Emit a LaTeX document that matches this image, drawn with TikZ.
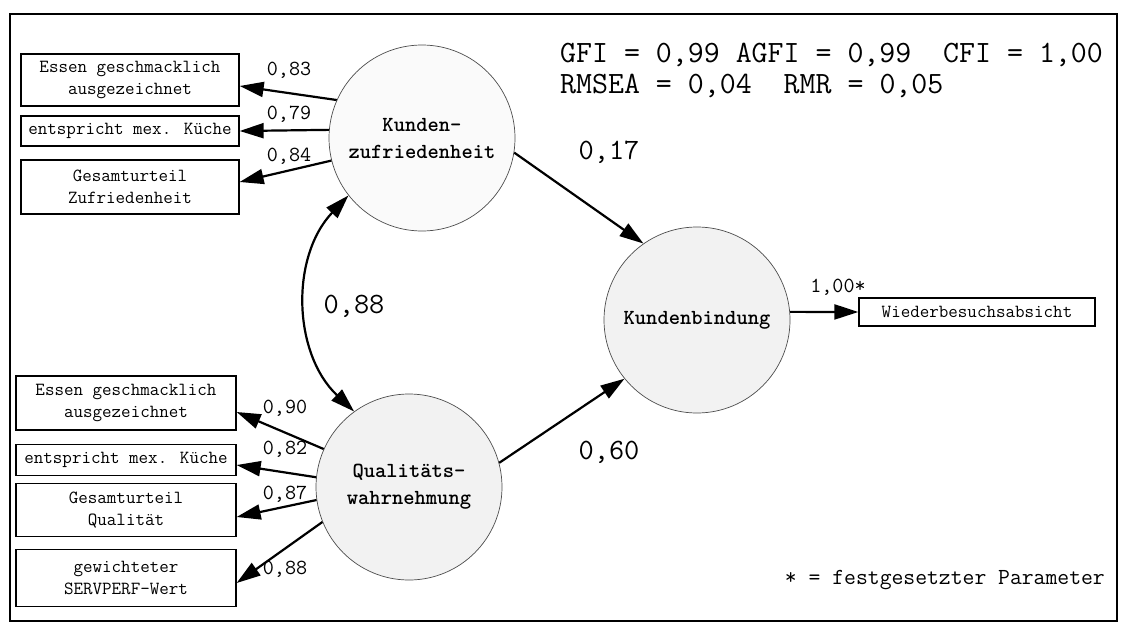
\documentclass[tikz,border=0pt]{standalone}
\usepackage{fontspec}
\usetikzlibrary{arrows.meta,calc}
\begin{document}
\begin{tikzpicture}[x=1pt,y=-1pt,
 box/.style={draw,line width=1.3pt,minimum width=218pt,align=center,font=\ttfamily\fontsize{18.5}{22}\selectfont,inner sep=0pt},
 lat/.style={circle,draw=black!70,line width=0.7pt,fill=black!5,minimum size=186pt,inner sep=0pt,font=\ttfamily\bfseries\fontsize{21.5}{27}\selectfont,align=center},
 arr/.style={line width=2.2pt,-{Triangle[length=24pt,width=15pt]}},
 darr/.style={line width=2.2pt,{Triangle[length=24pt,width=15pt]}-{Triangle[length=24pt,width=15pt]}},
 lbl/.style={font=\ttfamily\fontsize{21.5}{22}\selectfont,inner sep=0pt},
 big/.style={font=\ttfamily\fontsize{29.5}{32}\selectfont,inner sep=0pt}]
\useasboundingbox (0,0) rectangle (1127,629);
\draw[line width=1.5pt] (10,14) rectangle (1117,621);

% latent variables
\node[lat,fill=black!2] (kz) at (422,138) {Kunden-\\zufriedenheit};
\node[lat] (qw) at (409,487) {Qualitäts-\\wahrnehmung};
\node[lat] (kb) at (697,320) {Kundenbindung};

% indicators
\node[box,minimum height=52pt] (b1) at (130,80) {Essen geschmacklich\\ausgezeichnet};
\node[box,minimum height=30pt] (b2) at (130,131) {entspricht mex. Küche};
\node[box,minimum height=54pt] (b3) at (130,187) {Gesamturteil\\Zufriedenheit};
\node[box,minimum height=54pt,minimum width=220pt] (b4) at (126,403) {Essen geschmacklich\\ausgezeichnet};
\node[box,minimum height=31pt,minimum width=220pt] (b5) at (126,460) {entspricht mex. Küche};
\node[box,minimum height=53pt,minimum width=220pt] (b6) at (126,510) {Gesamturteil\\Qualität};
\node[box,minimum height=57pt,minimum width=220pt] (b7) at (126,578) {gewichteter\\SERVPERF-Wert};
\node[box,minimum height=28pt,minimum width=236pt] (w) at (977,312) {Wiederbesuchsabsicht};

% loadings
\draw[arr] (kz.156) -- ([yshift=-6pt]b1.east);
\draw[arr] (kz.175) -- (b2.east);
\draw[arr] (kz.194) -- ([yshift=5pt]b3.east);
\draw[arr] (qw.156) -- ([yshift=-9pt]b4.east);
\draw[arr] (qw.174) -- ([yshift=-5pt]b5.east);
\draw[arr] (qw.188) -- ([yshift=-7pt]b6.east);
\draw[arr] (qw.202) -- ([yshift=-5pt]b7.east);

\node[lbl] (l1) at (289,70) {0,83};
\node[lbl] (l2) at (289,114) {0,79};
\node[lbl] (l3) at (289,156) {0,84};
\node[lbl] (l4) at (285,408) {0,90};
\node[lbl] (l5) at (285,449) {0,82};
\node[lbl] (l6) at (285,494) {0,87};
\node[lbl] (l7) at (285,569) {0,88};

% structural paths
\draw[arr] (kz.-9) -- (kb.125);
\draw[arr] (qw.15) -- (kb.219);
\draw[arr] (kb.5) -- (w.west);
\draw[darr] (kz.218) to[bend right=45] (qw.126);

\node[big] (p1) at (609,152) {0,17};
\node[big] (p2) at (609,452) {0,60};
\node[big] (p3) at (354,306) {0,88};
\node[lbl] (p4) at (838,287) {1,00*};

% fit indices
\node[font=\ttfamily\fontsize{31}{32}\selectfont,inner sep=0pt,anchor=west] (fit1) at (560,55) {GFI = 0,99 AGFI = 0,99~ CFI = 1,00};
\node[font=\ttfamily\fontsize{31}{32}\selectfont,inner sep=0pt,anchor=west] (fit2) at (560,86) {RMSEA = 0,04~ RMR = 0,05};

\node[font=\ttfamily\fontsize{23}{24}\selectfont,inner sep=0pt,anchor=east] (note) at (1105,580) {* = festgesetzter Parameter};
\end{tikzpicture}
\end{document}
